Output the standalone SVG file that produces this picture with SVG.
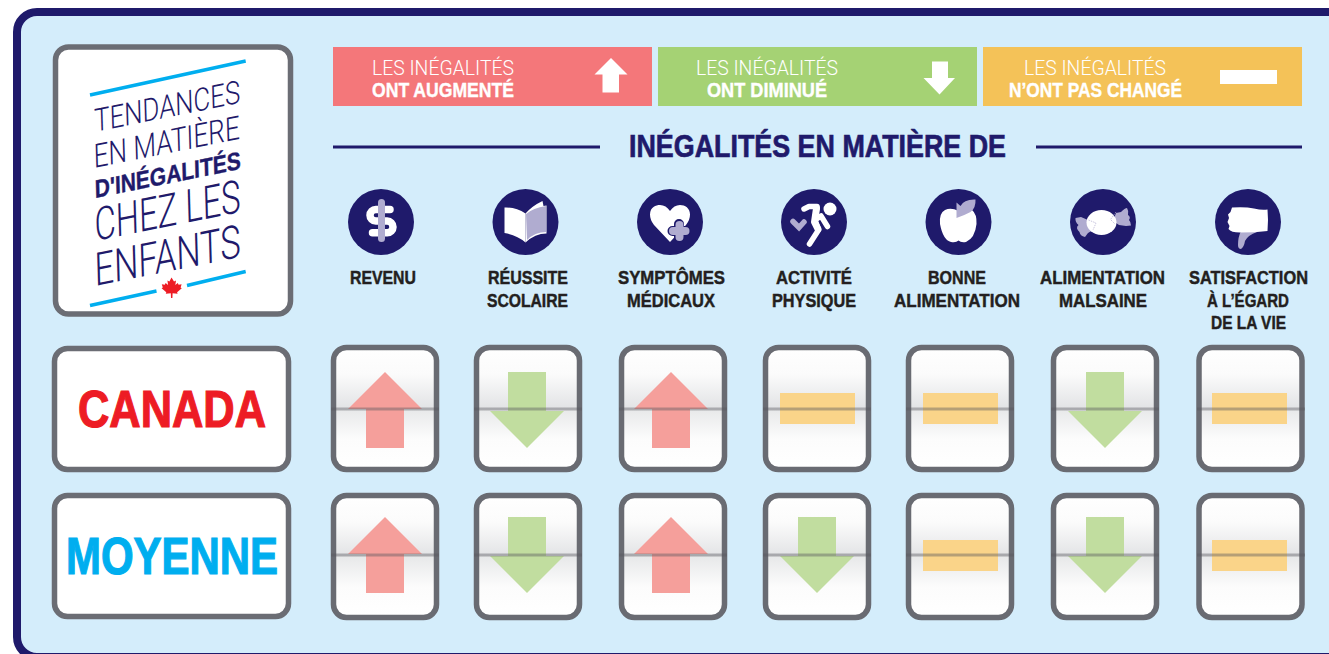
<svg xmlns="http://www.w3.org/2000/svg" width="1329" height="654" viewBox="0 0 1329 654">
<style>
.b{font-family:"Liberation Sans Narrow","Liberation Sans",Arial,sans-serif;font-weight:700}
.l{font-family:Roboto,"Liberation Sans",Arial,sans-serif;font-weight:300}
.lab{font-size:19px;fill:#231f20;stroke:#231f20;stroke-width:.45}
.leg{font-size:21px;fill:#fff}
.b.leg{stroke:#fff;stroke-width:.4}
.logo{fill:#1f1a6b}
.b.logo{stroke:#1f1a6b;stroke-width:.4}
.box{fill:#fff;stroke:#6b6d74;stroke-width:5.5}
.cell{fill:url(#g);stroke:#696b72;stroke-width:5.5}
.rule{fill:#55565c;opacity:.42}
.up{fill:#f59f9b}.down{fill:#c1dd9f}.same{fill:#fad489}
.ic{fill:#1f1a6b}.lav{fill:#b0acd0}.wh{fill:#fff}
.sl{stroke:#b0acd0;fill:none;stroke-linecap:round}
.sw{stroke:#fff;fill:none;stroke-linecap:round;stroke-linejoin:round}
.bl{stroke:#00aeef;stroke-width:3.4}
</style>
<defs>
<linearGradient id="g" x1="0" y1="0" x2="0" y2="1">
<stop offset="0" stop-color="#fff"/><stop offset=".22" stop-color="#fbfbfb"/><stop offset=".49" stop-color="#e3e4e6"/><stop offset=".51" stop-color="#e8e9ea"/><stop offset=".75" stop-color="#fcfcfc"/><stop offset="1" stop-color="#fff"/>
</linearGradient>
<path id="aUp" class="up" d="M0 0L37 37H19V76H-19V37H-37Z"/>
<path id="aDown" class="down" d="M-19 0H19V39H37L0 76L-37 39H-19Z"/>
<rect id="aSame" class="same" x="-37.5" y="0" width="75" height="31"/>
<rect id="cellBox" class="cell" x="0" y="0" width="103" height="122" rx="13"/>
</defs>

<rect id="frame" x="17" y="12" width="1400" height="645" rx="20" fill="#d4edfb" stroke="#1f1a6b" stroke-width="8"/>

<g id="logo">
<rect class="box" x="55.5" y="47" width="235" height="267" rx="13"/>
<line class="bl" x1="90" y1="95" x2="245.700" y2="61"/>
<line class="bl" x1="90" y1="305.500" x2="156.500" y2="291"/>
<line class="bl" x1="187" y1="285.500" x2="245.700" y2="271.500"/>
<text class="l logo" transform="matrix(1 -.2 .03 1 94.500 132)" font-size="32" textLength="146" lengthAdjust="spacingAndGlyphs">TENDANCES</text>
<text class="l logo" transform="matrix(1 -.2 .03 1 94 168)" font-size="33" textLength="146" lengthAdjust="spacingAndGlyphs">EN MATIÈRE</text>
<text class="b logo" transform="matrix(1 -.2 .03 1 95 198)" font-size="25" textLength="146" lengthAdjust="spacingAndGlyphs">D'INÉGALITÉS</text>
<text class="l logo" transform="matrix(1 -.2 .03 1 95 241)" font-size="46" textLength="146" lengthAdjust="spacingAndGlyphs">CHEZ LES</text>
<text class="l logo" transform="matrix(1 -.2 .03 1 95 286)" font-size="46" textLength="146" lengthAdjust="spacingAndGlyphs">ENFANTS</text>
<path d="M171.500 277.500l2.500 4 2-1-.7 4.500 2.500-2 .8 1.800 3-.6-1 3.300 1.200.8-4.700 3.900.5 1.600-5-.6-.2 4.700h-1.400l-.2-4.700-5 .6.500-1.600-4.700-3.900 1.200-.8-1-3.300 3 .6.800-1.800 2.500 2-.7-4.500 2 1z" fill="#ed1c24"/>
</g>

<g id="legend-up">
<rect x="333" y="47" width="319" height="59" fill="#f4777a"/>
<text class="l leg" x="372" y="75" textLength="142" lengthAdjust="spacingAndGlyphs">LES INÉGALITÉS</text>
<text class="b leg" x="372" y="96.500" textLength="142" lengthAdjust="spacingAndGlyphs">ONT AUGMENTÉ</text>
<path class="wh" d="M611 58L627.500 74.500H619V92.500H602.500V74.500H594.500Z"/>
</g>
<g id="legend-down">
<rect x="658" y="47" width="319" height="59" fill="#a5d274"/>
<text class="l leg" x="696" y="75" textLength="142" lengthAdjust="spacingAndGlyphs">LES INÉGALITÉS</text>
<text class="b leg" x="707" y="96.500" textLength="120" lengthAdjust="spacingAndGlyphs">ONT DIMINUÉ</text>
<path class="wh" d="M932 61.500H948V78H955L939.500 94.500L923.500 78H932Z"/>
</g>
<g id="legend-same">
<rect x="983" y="47" width="319" height="59" fill="#f4c258"/>
<text class="l leg" x="1024" y="75" textLength="142" lengthAdjust="spacingAndGlyphs">LES INÉGALITÉS</text>
<text class="b leg" x="1009" y="96.500" textLength="173" lengthAdjust="spacingAndGlyphs">N’ONT PAS CHANGÉ</text>
<rect class="wh" x="1220" y="70" width="57" height="14"/>
</g>

<g id="heading">
<line x1="333" y1="147" x2="600" y2="147" stroke="#1f1a6b" stroke-width="2.800"/>
<line x1="1036" y1="147" x2="1302" y2="147" stroke="#1f1a6b" stroke-width="2.800"/>
<text class="b" x="629" y="156.500" font-size="32" fill="#1f1a6b" stroke="#1f1a6b" stroke-width=".7" textLength="377" lengthAdjust="spacingAndGlyphs">INÉGALITÉS EN MATIÈRE DE</text>
</g>

<g id="col-revenu">
<circle class="ic" cx="381" cy="222" r="33"/>
<path class="sw" stroke-width="7.500" d="M390 209.500H375.800a5.800 5.800 0 0 0 0 11.600H387.200a5.800 5.800 0 0 1 0 11.600H372.500"/>
<line class="sl" x1="381.500" y1="202.500" x2="381.500" y2="238.500" stroke-width="7"/>
<text class="b lab" x="350" y="284" textLength="66" lengthAdjust="spacingAndGlyphs">REVENU</text>
</g>
<g id="col-scolaire">
<circle class="ic" cx="525.500" cy="222" r="33"/>
<path class="wh" d="M504.500 207.500Q516 207 525.500 213.500V242.500Q517 235 504.500 233Z"/>
<path class="wh" d="M525.500 213.500Q532 206 542.500 201L543.500 206L546.500 205.500V233.500Q535 233.500 525.500 242.500Z"/>
<path class="lav" d="M526 214Q533 208 546 206V232Q535 232 527 240Z"/>
<text class="b lab" x="488" y="284" textLength="80" lengthAdjust="spacingAndGlyphs">RÉUSSITE</text>
<text class="b lab" x="487" y="307" textLength="81" lengthAdjust="spacingAndGlyphs">SCOLAIRE</text>
</g>
<g id="col-symptomes">
<circle class="ic" cx="670" cy="222" r="33"/>
<path class="wh" d="M670 242L654 225Q650 220 650 214.500C650 207 656 205 660 205Q666 205 670 211Q674 205 680 205C685 205 690 208 690 214.500Q690 220 686 225Z"/>
<path d="M679 224V237M672.500 231H685.500" stroke="#1f1a6b" stroke-width="10" fill="none" stroke-linecap="round"/>
<path class="sl" d="M679.500 225V237M673 231H685.500" stroke-width="8"/>
<text class="b lab" x="618" y="284" textLength="107" lengthAdjust="spacingAndGlyphs">SYMPTÔMES</text>
<text class="b lab" x="627" y="307" textLength="88" lengthAdjust="spacingAndGlyphs">MÉDICAUX</text>
</g>
<g id="col-activite">
<circle class="ic" cx="814" cy="222" r="33"/>
<path class="sl" stroke-width="5.500" stroke-linecap="square" d="M793 221.500L799 227.500L804 222"/>
<circle class="wh" cx="830" cy="209" r="6.500"/>
<path class="sw" stroke-width="5.500" d="M804 209L809 206.500H817L815 220L821 216L827.500 226.500M815 220L818.500 230L809.500 244"/>
<path class="sw" stroke-width="7" d="M816.500 208.500L814.500 222L818 229"/>
<text class="b lab" x="776" y="284" textLength="76" lengthAdjust="spacingAndGlyphs">ACTIVITÉ</text>
<text class="b lab" x="772" y="307" textLength="84" lengthAdjust="spacingAndGlyphs">PHYSIQUE</text>
</g>
<g id="col-bonne">
<circle class="ic" cx="958.500" cy="222" r="33"/>
<path class="wh" d="M958.500 211Q967 207 972 210Q977 214 976.500 224Q975 238 966 242Q961 243 958.500 240.500Q956 243 951 242Q943 240 940 224Q939 213 945 210Q951 207 958.500 211Z"/>
<path class="lav" d="M956.500 202.500L960.500 206Q964 199 975.500 199.500Q976 208 970.500 212Q965 215 956.500 218Z"/>
<text class="b lab" x="928" y="284" textLength="58" lengthAdjust="spacingAndGlyphs">BONNE</text>
<text class="b lab" x="894" y="307" textLength="126" lengthAdjust="spacingAndGlyphs">ALIMENTATION</text>
</g>
<g id="col-malsaine">
<circle class="ic" cx="1103" cy="222" r="33"/>
<path class="lav" d="M1075.500 218L1081 217L1088 220L1090 219.500L1096 223L1093 230L1088 233L1085 237Q1080 236 1079.500 232Q1075 228 1078.500 225Q1075 222 1075.500 218Z"/>
<path class="lav" d="M1131 225.500L1126 226L1119 225L1113 221L1116 213L1121 212Q1125 208 1127 208Q1129 211 1128 215Q1131 217 1129 220Q1131 222 1131 225.500Z"/>
<ellipse class="wh" cx="1101.500" cy="222.500" rx="15" ry="12.500"/>
<path d="M1088.500 220L1096 223L1093 230M1116 212L1110.500 219.500L1115 224" fill="none" stroke="#b0acd0" stroke-width=".7" stroke-dasharray="1.500 1"/>
<text class="b lab" x="1040" y="284" textLength="125" lengthAdjust="spacingAndGlyphs">ALIMENTATION</text>
<text class="b lab" x="1059" y="307" textLength="88" lengthAdjust="spacingAndGlyphs">MALSAINE</text>
</g>
<g id="col-satisfaction">
<circle class="ic" cx="1248" cy="222" r="33"/>
<path class="lav" d="M1241 231L1257 232Q1248 235 1245 241Q1244 247 1241 249Q1238 249 1238 245Q1238 237 1241 231Z"/>
<path class="wh" d="M1232 207.500Q1245 206.500 1254 208.500Q1262 210.500 1267.500 209.500Q1268.500 220 1267.500 231Q1255 232.500 1240 232.500Q1231 232.500 1228.500 229L1229.500 226L1227.500 222L1229 218L1228 214.500L1230.500 212Z"/>
<text class="b lab" x="1189" y="284" textLength="119" lengthAdjust="spacingAndGlyphs">SATISFACTION</text>
<text class="b lab" x="1207" y="307" textLength="82" lengthAdjust="spacingAndGlyphs">À L’ÉGARD</text>
<text class="b lab" x="1211" y="329" textLength="75" lengthAdjust="spacingAndGlyphs">DE LA VIE</text>
</g>

<g id="row-canada">
<rect class="box" x="54.500" y="348.500" width="234" height="121" rx="13"/>
<text class="b" x="78" y="427" font-size="52" fill="#ed1c24" stroke="#ed1c24" stroke-width="1.200" textLength="188" lengthAdjust="spacingAndGlyphs">CANADA</text>
</g>
<g id="row-moyenne">
<rect class="box" x="54.500" y="495.500" width="234" height="121" rx="13"/>
<text class="b" x="66" y="574" font-size="52" fill="#00aeef" stroke="#00aeef" stroke-width="1.200" textLength="212" lengthAdjust="spacingAndGlyphs">MOYENNE</text>
</g>

<g id="cells-canada">
<g id="c1-1"><use href="#cellBox" x="333.500" y="347.500"/><use href="#aUp" x="385" y="372"/><rect class="rule" x="331" y="407.500" width="108" height="3"/></g>
<g id="c1-2"><use href="#cellBox" x="476.500" y="347.500"/><use href="#aDown" x="527" y="372"/><rect class="rule" x="474" y="407.500" width="108" height="3"/></g>
<g id="c1-3"><use href="#cellBox" x="621.500" y="347.500"/><use href="#aUp" x="671" y="372"/><rect class="rule" x="619" y="407.500" width="108" height="3"/></g>
<g id="c1-4"><use href="#cellBox" x="765.500" y="347.500"/><use href="#aSame" x="817.500" y="393"/><rect class="rule" x="763" y="407.500" width="108" height="3"/></g>
<g id="c1-5"><use href="#cellBox" x="908.500" y="347.500"/><use href="#aSame" x="960.500" y="393"/><rect class="rule" x="906" y="407.500" width="108" height="3"/></g>
<g id="c1-6"><use href="#cellBox" x="1053.500" y="347.500"/><use href="#aDown" x="1105" y="372"/><rect class="rule" x="1051" y="407.500" width="108" height="3"/></g>
<g id="c1-7"><use href="#cellBox" x="1199" y="347.500"/><use href="#aSame" x="1249.500" y="393"/><rect class="rule" x="1197" y="407.500" width="108" height="3"/></g>
</g>
<g id="cells-moyenne">
<g id="c2-1"><use href="#cellBox" x="333.500" y="495.500"/><use href="#aUp" x="385" y="517"/><rect class="rule" x="331" y="553.500" width="108" height="3"/></g>
<g id="c2-2"><use href="#cellBox" x="476.500" y="495.500"/><use href="#aDown" x="527" y="517"/><rect class="rule" x="474" y="553.500" width="108" height="3"/></g>
<g id="c2-3"><use href="#cellBox" x="621.500" y="495.500"/><use href="#aUp" x="671" y="517"/><rect class="rule" x="619" y="553.500" width="108" height="3"/></g>
<g id="c2-4"><use href="#cellBox" x="765.500" y="495.500"/><use href="#aDown" x="817" y="517"/><rect class="rule" x="763" y="553.500" width="108" height="3"/></g>
<g id="c2-5"><use href="#cellBox" x="908.500" y="495.500"/><use href="#aSame" x="960.500" y="540"/><rect class="rule" x="906" y="553.500" width="108" height="3"/></g>
<g id="c2-6"><use href="#cellBox" x="1053.500" y="495.500"/><use href="#aDown" x="1105" y="517"/><rect class="rule" x="1051" y="553.500" width="108" height="3"/></g>
<g id="c2-7"><use href="#cellBox" x="1199" y="495.500"/><use href="#aSame" x="1249.500" y="540"/><rect class="rule" x="1197" y="553.500" width="108" height="3"/></g>
</g>
<g id="connectors"></g>
</svg>
